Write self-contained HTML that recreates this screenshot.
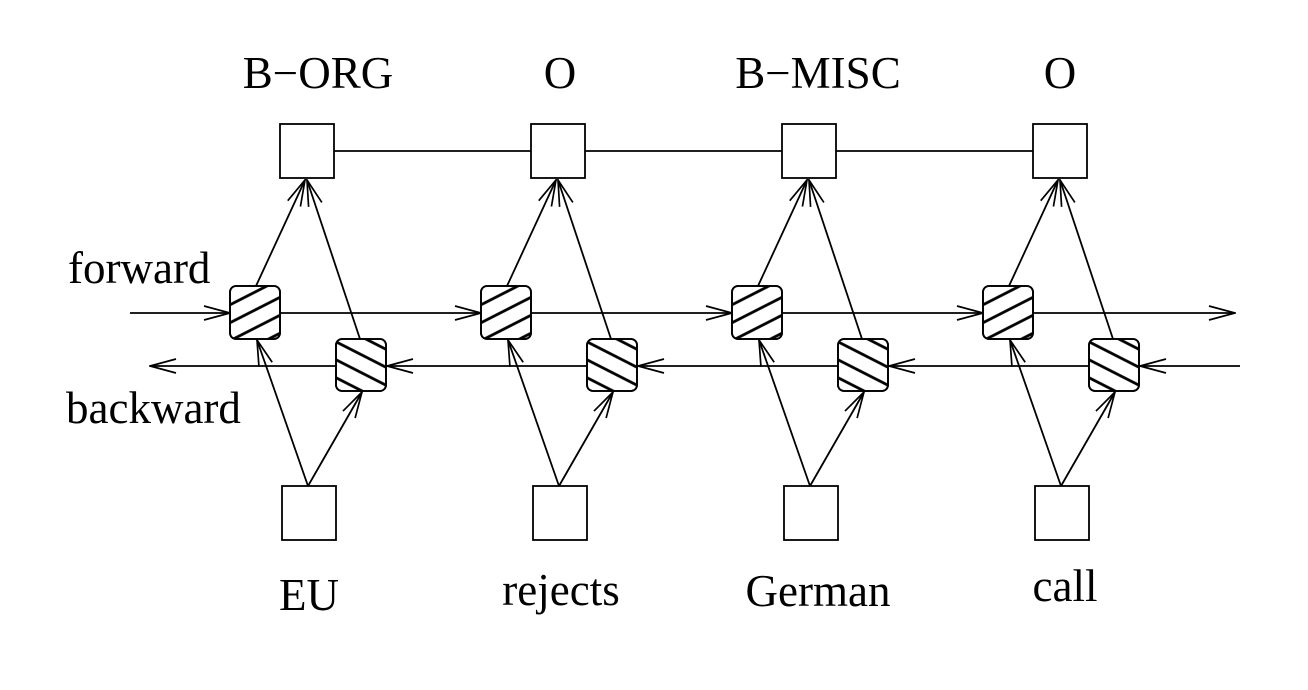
<!DOCTYPE html>
<html><head><meta charset="utf-8"><style>
html,body{margin:0;padding:0;background:#fff}
svg{display:block}
text{font-family:"Liberation Serif",serif;font-size:45px;fill:#000}
</style></head><body>
<svg width="1308" height="690" viewBox="0 0 1308 690" xmlns="http://www.w3.org/2000/svg">
<defs>
<pattern id="hf" width="16" height="16" patternUnits="userSpaceOnUse" patternTransform="rotate(-27)">
<line x1="0" y1="8" x2="16" y2="8" stroke="#000" stroke-width="2.8"/></pattern>
<pattern id="hb" width="16" height="16" patternUnits="userSpaceOnUse" patternTransform="rotate(27)">
<line x1="0" y1="8" x2="16" y2="8" stroke="#000" stroke-width="2.8"/></pattern>
<marker id="a" viewBox="0 0 28 20" refX="27" refY="10" markerWidth="28" markerHeight="20" markerUnits="userSpaceOnUse" orient="auto">
<path d="M1,3 L27,10 L1,17" fill="none" stroke="#000" stroke-width="1.7"/></marker>
</defs>
<g stroke="#000" stroke-width="1.8" fill="none">
<line x1="334" y1="151" x2="1036" y2="151"/>
<line x1="130" y1="313" x2="230" y2="313" marker-end="url(#a)"/>
<line x1="280" y1="313" x2="481" y2="313" marker-end="url(#a)"/>
<line x1="531" y1="313" x2="732" y2="313" marker-end="url(#a)"/>
<line x1="782" y1="313" x2="983" y2="313" marker-end="url(#a)"/>
<line x1="1033" y1="313" x2="1235" y2="313" marker-end="url(#a)"/>
<line x1="1240" y1="366" x2="1140" y2="366" marker-end="url(#a)"/>
<line x1="1089" y1="366" x2="889" y2="366" marker-end="url(#a)"/>
<line x1="838" y1="366" x2="638" y2="366" marker-end="url(#a)"/>
<line x1="587" y1="366" x2="387" y2="366" marker-end="url(#a)"/>
<line x1="336" y1="366" x2="150" y2="366" marker-end="url(#a)"/>
</g>
<g id="col">
<g stroke="#000" stroke-width="1.8" fill="none">
<line x1="308" y1="486" x2="257" y2="340" marker-end="url(#a)"/>
<line x1="308" y1="486" x2="362" y2="392" marker-end="url(#a)"/>
<line x1="256" y1="286" x2="305" y2="180" marker-end="url(#a)"/>
<line x1="360" y1="339" x2="307" y2="180" marker-end="url(#a)"/>
</g>
<rect x="280" y="124" width="54" height="54" fill="#fff" stroke="#000" stroke-width="1.8"/>
<rect x="282" y="486" width="54" height="54" fill="#fff" stroke="#000" stroke-width="1.8"/>
<rect x="230" y="286" width="50" height="53" rx="6" fill="#fff" stroke="#000" stroke-width="1.8"/>
<rect x="230" y="286" width="50" height="53" rx="6" fill="url(#hf)" stroke="#000" stroke-width="1.8"/>
<rect x="336" y="339" width="50" height="52" rx="6" fill="#fff" stroke="#000" stroke-width="1.8"/>
<rect x="336" y="339" width="50" height="52" rx="6" fill="url(#hb)" stroke="#000" stroke-width="1.8"/>
</g>
<use href="#col" x="251"/>
<use href="#col" x="502"/>
<use href="#col" x="753"/>
<text x="318" y="88" text-anchor="middle">B−ORG</text>
<text x="560" y="88" text-anchor="middle">O</text>
<text x="818" y="88" text-anchor="middle">B−MISC</text>
<text x="1060" y="88" text-anchor="middle">O</text>
<text x="309" y="610" text-anchor="middle">EU</text>
<text x="561" y="605" text-anchor="middle">rejects</text>
<text x="818" y="606" text-anchor="middle">German</text>
<text x="1065" y="601" text-anchor="middle">call</text>
<text x="68" y="283">forward</text>
<text x="66" y="423">backward</text>
</svg>
</body></html>
